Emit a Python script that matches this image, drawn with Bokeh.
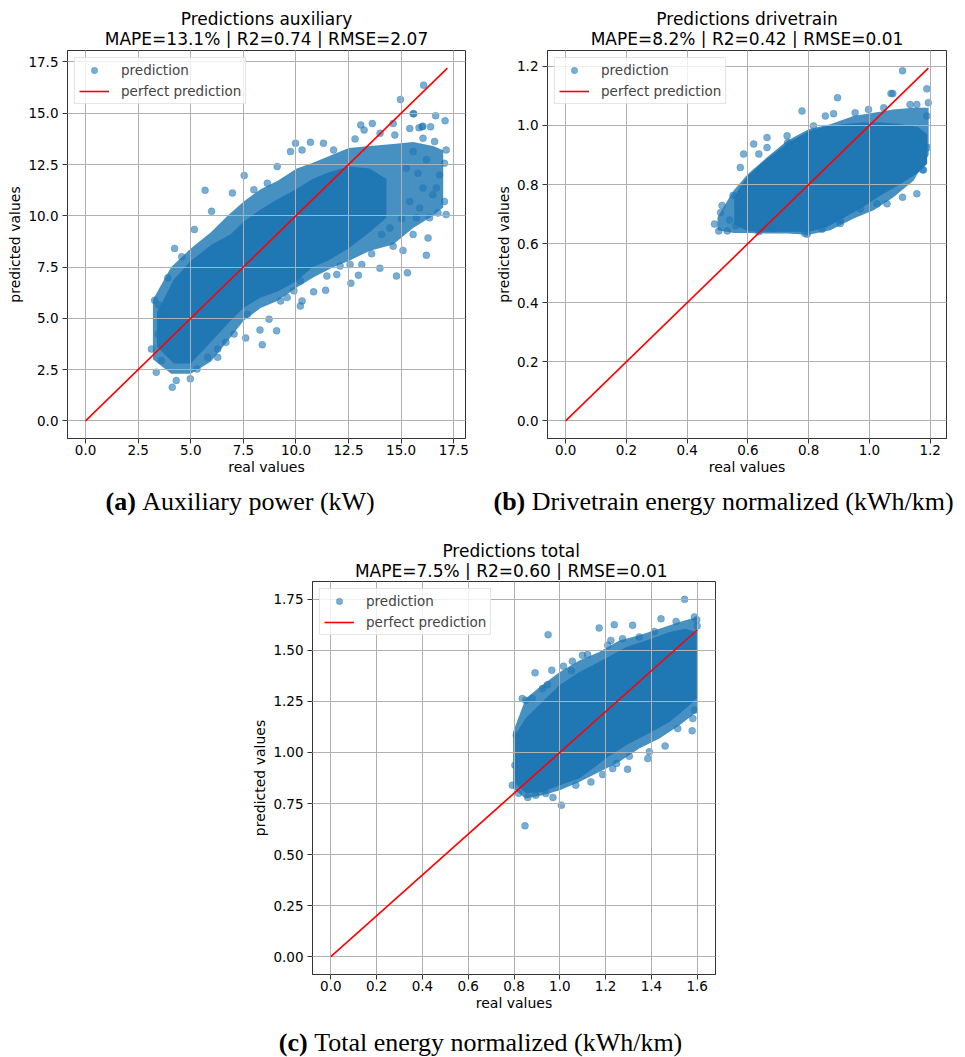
from bokeh.plotting import figure
from bokeh.layouts import column, row
from bokeh.models import (Range1d, FixedTicker, PrintfTickFormatter, Legend,
                          LegendItem, Spacer)
from bokeh.core.properties import value
from bokeh.embed import file_html
from bokeh.resources import INLINE

# ------------------------------------------------------------------ data
# (a) Auxiliary power  -- individually visible predictions
a_real = [16.64, 17.09, 15.57, 16.0, 15.41, 16.4, 13.63, 13.08, 12.81, 13.24, 14.0, 14.7,
          11.79, 11.31, 10.69, 9.98, 9.74, 10.29, 9.11, 7.54, 5.68, 6.98, 8.0, 8.64,
          5.99, 5.17, 4.23, 4.57, 3.91, 3.28, 3.47, 3.13, 3.36, 4.12, 4.31, 4.98, 5.3,
          6.28, 6.67, 7.61, 8.4, 8.29, 9.08, 8.72, 10.21, 10.29, 10.84, 11.41, 11.94,
          12.61, 12.97, 13.99, 14.78, 15.3, 13.6, 16.2, 15.09, 14.62, 15.57, 16.28,
          17.14, 16.75, 16.35, 15.72, 15.02, 17.06, 16.67, 16.83, 17.06, 17.14, 16.59,
          16.04, 15.57, 16.2, 15.8, 15.25, 16.51, 16.04, 15.41, 15.88, 14.46, 14.07,
          13.13, 12.57, 12.1, 11.47, 10.21, 9.58, 9.27, 9.9, 7.69, 7.06, 6.28, 5.8, 3.6,
          3.44, 3.6, 16.07, 14.97, 15.6, 14.62, 15.85, 16.03]
a_pred = [14.88, 14.64, 14.98, 14.34, 14.26, 14.34, 14.5, 14.43, 13.75, 14.18, 14.02, 13.94,
          13.21, 13.54, 13.58, 13.54, 13.13, 13.21, 12.4, 11.97, 11.24, 11.11, 11.27, 11.59,
          10.22, 9.33, 8.41, 8.0, 6.98, 5.88, 5.66, 3.5, 2.37, 1.64, 1.97, 2.05, 2.53,
          3.1, 3.83, 4.04, 3.71, 4.43, 4.39, 4.96, 5.6, 5.85, 6.29, 6.37, 7.14,
          6.71, 7.1, 7.44, 7.06, 7.22, 8.15, 8.07, 8.31, 8.52, 9.09, 8.92,
          10.06, 10.14, 9.9, 9.9, 9.86, 10.7, 11.35, 11.99, 12.56, 13.21, 13.62,
          13.78, 13.13, 12.73, 12.08, 12.32, 11.03, 11.35, 10.7, 10.38, 9.41, 9.09,
          7.63, 7.63, 7.55, 7.06, 6.82, 6.01, 5.85, 6.34, 5.2, 4.23, 3.5, 3.1, 2.94,
          4.23, 5.04, 16.37, 15.67, 14.97, 14.5, 14.29, 14.37]
# outer envelope of the crowded part of the cloud (real value, lower, upper prediction)
a_env_x = [3.2, 4.07, 5.0, 5.96, 6.75, 7.52, 8.32, 9.11, 10.04, 10.84, 11.79, 12.51, 13.52,
           14.62, 15.57, 16.51, 17.0]
a_env_lo = [3.0, 2.3, 2.3, 2.9, 3.9, 4.9, 5.5, 5.85, 6.5, 7.0, 7.5, 7.8, 8.3, 8.6, 9.4,
            10.0, 10.4]
a_env_hi = [5.9, 7.5, 8.4, 9.2, 10.0, 10.7, 11.3, 11.7, 12.3, 12.6, 13.0, 13.3, 13.4, 13.5,
            13.6, 13.4, 13.2]
# fully overlapping (solid) part of the cloud
a_core_x = [3.4, 4.2, 5.0, 6.0, 6.9, 7.5, 8.3, 9.1, 10.0, 10.8, 11.5, 12.5, 13.5, 14.3]
a_core_lo = [3.6, 2.8, 2.8, 3.9, 4.9, 5.5, 6.0, 6.3, 6.8, 7.5, 7.8, 8.4, 9.2, 9.9]
a_core_hi = [5.3, 6.9, 7.8, 8.6, 9.1, 9.7, 10.3, 10.8, 11.3, 11.8, 12.1, 12.4, 12.3, 11.8]
a_perfect = [0.0, 17.2]

# (b) Drivetrain energy normalized
b_real = [1.109, 1.077, 1.071, 1.189, 1.194, 1.189, 1.191, 1.178, 1.156, 1.109, 1.058, 1.025,
          0.97, 0.904, 0.882, 0.795, 0.685, 0.636, 0.532, 0.504, 0.49, 0.51, 0.515, 0.551,
          0.575, 0.586, 0.636, 0.663, 0.663, 0.729, 0.731, 0.778, 0.855, 0.882, 0.895,
          0.953, 0.997, 1.047, 1.134, 1.156, 0.816, 0.619, 1.175, 0.904, 0.844, 0.787,
          0.60, 0.58, 0.54, 0.56]
b_pred = [1.185, 1.108, 1.108, 1.124, 1.077, 1.032, 0.925, 0.849, 0.769, 0.757, 0.735, 0.735,
          0.718, 0.679, 0.69, 0.632, 0.651, 0.64, 0.643, 0.643, 0.666, 0.705, 0.729, 0.763,
          0.858, 0.903, 0.903, 0.959, 0.925, 0.965, 0.942, 1.049, 1.032, 1.04, 1.094,
          1.043, 1.054, 1.06, 1.071, 1.071, 0.998, 0.937, 0.85, 0.668, 0.649, 0.635,
          0.79, 0.70, 0.68, 0.66]
b_env_x = [0.50, 0.553, 0.60, 0.663, 0.729, 0.80, 0.871, 0.948, 1.014, 1.079, 1.145, 1.195]
b_env_lo = [0.645, 0.636, 0.636, 0.634, 0.634, 0.63, 0.645, 0.685, 0.713, 0.757, 0.813, 0.90]
b_env_hi = [0.69, 0.78, 0.836, 0.892, 0.948, 0.987, 1.004, 1.032, 1.043, 1.054, 1.06, 1.06]
b_core_x = [0.555, 0.60, 0.66, 0.73, 0.80, 0.86, 0.92, 0.98, 1.04, 1.10, 1.16, 1.19]
b_core_lo = [0.665, 0.642, 0.64, 0.64, 0.64, 0.655, 0.69, 0.725, 0.765, 0.80, 0.84, 0.87]
b_core_hi = [0.76, 0.83, 0.885, 0.94, 0.98, 0.998, 1.005, 1.01, 1.01, 1.005, 0.995, 0.97]
b_perfect = [0.0, 1.194]

# (c) Total energy normalized
c_real = [1.545, 0.949, 1.172, 1.238, 1.318, 1.442, 1.588, 1.099, 1.121, 1.055, 1.016, 0.892,
          0.965, 0.946, 0.924, 0.836, 0.851, 0.88, 0.81, 0.804, 0.793, 0.848, 1.007, 0.939,
          0.895, 1.07, 1.136, 1.187, 1.231, 1.296, 1.248, 1.304, 1.384, 1.391, 1.46, 1.515,
          1.578, 1.581, 1.588, 1.223, 1.209, 1.274, 1.347, 1.413, 1.508, 1.051, 1.598, 1.60,
          0.82, 0.86, 0.97]
c_pred = [1.75, 1.577, 1.61, 1.626, 1.623, 1.655, 1.664, 1.476, 1.48, 1.447, 1.422, 1.39,
          1.403, 1.332, 1.313, 1.264, 1.256, 1.264, 1.084, 0.938, 0.84, 0.641, 0.742, 0.799,
          0.791, 0.84, 0.856, 0.892, 0.921, 0.918, 0.946, 0.982, 0.97, 1.003, 1.032, 1.117,
          1.106, 1.166, 1.207, 1.549, 1.525, 1.557, 1.566, 1.593, 1.642, 1.4, 1.65, 1.62,
          0.80, 0.78, 0.78]
c_env_x = [0.796, 0.851, 0.924, 1.0, 1.085, 1.172, 1.26, 1.347, 1.435, 1.523, 1.599]
c_env_lo = [0.823, 0.774, 0.79, 0.815, 0.856, 0.905, 0.954, 1.019, 1.068, 1.133, 1.199]
c_env_hi = [1.10, 1.264, 1.33, 1.394, 1.45, 1.492, 1.549, 1.574, 1.606, 1.639, 1.664]
c_core_x = [0.805, 0.85, 0.924, 1.0, 1.085, 1.143, 1.2, 1.29, 1.4, 1.48, 1.55, 1.598]
c_core_lo = [0.85, 0.80, 0.807, 0.84, 0.872, 0.92, 0.97, 1.035, 1.1, 1.15, 1.215, 1.264]
c_core_hi = [1.084, 1.166, 1.248, 1.33, 1.394, 1.427, 1.46, 1.517, 1.557, 1.59, 1.606, 1.59]
c_perfect = [0.0, 1.6]

# tick values
a_ticks = [0.0, 2.5, 5.0, 7.5, 10.0, 12.5, 15.0, 17.5]
b_ticks = [0.0, 0.2, 0.4, 0.6, 0.8, 1.0, 1.2]
c_xticks = [0.0, 0.2, 0.4, 0.6, 0.8, 1.0, 1.2, 1.4, 1.6]
c_yticks = [0.0, 0.25, 0.5, 0.75, 1.0, 1.25, 1.5, 1.75]

# texts
a_title = ["Predictions auxiliary", "MAPE=13.1% | R2=0.74 | RMSE=2.07"]
b_title = ["Predictions drivetrain", "MAPE=8.2% | R2=0.42 | RMSE=0.01"]
c_title = ["Predictions total", "MAPE=7.5% | R2=0.60 | RMSE=0.01"]
a_caption = ["(a)", "Auxiliary power (kW)"]
b_caption = ["(b)", "Drivetrain energy normalized (kWh/km)"]
c_caption = ["(c)", "Total energy normalized (kWh/km)"]
legend_labels = ["prediction", "perfect prediction"]
x_label = "real values"
y_label = "predicted values"

# ------------------------------------------------------------------ style
BLUE = "#1f77b4"
FONT = "DejaVu Sans"
SERIF = "Liberation Serif"
SPINE = "#333333"


def padded(vals):
    lo, hi = min(vals), max(vals)
    m = 0.05 * (hi - lo)
    return Range1d(lo - m, hi + m)


def make_panel(real, pred, ex, elo, ehi, cx, clo, chi, perfect, xticks, yticks,
               xfmt, yfmt, fw, fh, borders):
    p = figure(frame_width=fw, frame_height=fh,
               x_range=padded(real + perfect), y_range=padded(pred + perfect),
               output_backend="svg", toolbar_location=None,
               min_border_left=borders[0], min_border_right=borders[1],
               min_border_top=borders[2], min_border_bottom=borders[3])
    p.background_fill_color = "white"
    p.border_fill_color = "white"
    p.varea(x=ex, y1=elo, y2=ehi, fill_color=BLUE, fill_alpha=0.82)
    p.varea(x=cx, y1=clo, y2=chi, fill_color=BLUE, fill_alpha=1.0)
    sc = p.scatter(real, pred, size=7, fill_color=BLUE, fill_alpha=0.6,
                   line_color=BLUE, line_alpha=0.6, line_width=0.5)
    ln = p.line(perfect, perfect, line_color="#ff0000", line_width=1.6)
    ln.level = "annotation"

    p.outline_line_color = SPINE
    p.outline_line_alpha = 1.0
    p.outline_line_width = 1

    p.grid.grid_line_color = "#b0b0b0"
    p.grid.grid_line_width = 1
    p.grid.level = "guide"

    p.xaxis.ticker = FixedTicker(ticks=xticks)
    p.yaxis.ticker = FixedTicker(ticks=yticks)
    p.xaxis.formatter = PrintfTickFormatter(format=xfmt)
    p.yaxis.formatter = PrintfTickFormatter(format=yfmt)
    p.xaxis.axis_label = x_label
    p.yaxis.axis_label = y_label
    for ax in p.axis:
        ax.axis_line_color = SPINE
        ax.major_tick_line_color = SPINE
        ax.major_tick_out = 5
        ax.major_tick_in = 0
        ax.minor_tick_out = 0
        ax.minor_tick_in = 0
        ax.major_label_text_font = FONT
        ax.major_label_text_font_size = "13.5px"
        ax.major_label_text_color = "black"
        ax.axis_label_text_font = FONT
        ax.axis_label_text_font_size = "14px"
        ax.axis_label_text_font_style = "normal"
        ax.axis_label_text_color = "black"
    p.xaxis.major_label_standoff = 1
    p.xaxis.axis_label_standoff = 1
    p.yaxis.major_label_standoff = 4
    p.yaxis.axis_label_standoff = 2

    legend = Legend(items=[LegendItem(label=legend_labels[0], renderers=[sc]),
                           LegendItem(label=legend_labels[1], renderers=[ln])],
                    location="top_left", margin=7, padding=4, spacing=5,
                    glyph_width=30, glyph_height=16, label_height=16,
                    label_standoff=12,
                    label_text_font=FONT, label_text_font_size="13.5px",
                    background_fill_alpha=0.8, border_line_color="#cccccc",
                    border_line_width=1)
    p.add_layout(legend)
    return p


def strip(width, height, items):
    f = figure(width=width, height=height, x_range=Range1d(0, width),
               y_range=Range1d(height, 0), x_axis_type=None, y_axis_type=None,
               output_backend="svg", toolbar_location=None, min_border=0)
    f.outline_line_color = None
    f.background_fill_color = "white"
    f.border_fill_color = "white"
    for (x, y, txt, font, size, style, align) in items:
        f.text(x=[x], y=[y], text=[txt], text_font=value(font),
               text_font_size=value(size), text_font_style=style,
               text_align=align, text_baseline="middle", text_color="black")
    return f


# ------------------------------------------------------------------ panels
fig_a = make_panel(a_real, a_pred, a_env_x, a_env_lo, a_env_hi,
                   a_core_x, a_core_lo, a_core_hi, a_perfect,
                   a_ticks, a_ticks, "%.1f", "%.1f", 398, 388, (67, 15, 2, 42))
fig_b = make_panel(b_real, b_pred, b_env_x, b_env_lo, b_env_hi,
                   b_core_x, b_core_lo, b_core_hi, b_perfect,
                   b_ticks, b_ticks, "%.1f", "%.1f", 399, 388, (67, 19, 2, 42))
fig_c = make_panel(c_real, c_pred, c_env_x, c_env_lo, c_env_hi,
                   c_core_x, c_core_lo, c_core_hi, c_perfect,
                   c_xticks, c_yticks, "%.1f", "%.2f", 403, 393, (60, 10, 1, 40))

W = 965
header1 = strip(W, 48, [
    (266, 18.7, a_title[0], FONT, "17px", "normal", "center"),
    (266, 38.4, a_title[1], FONT, "17px", "normal", "center"),
    (746.5, 18.7, b_title[0], FONT, "17px", "normal", "center"),
    (746.5, 38.4, b_title[1], FONT, "17px", "normal", "center"),
])
caption1 = strip(W, 48, [
    (105, 20.5, a_caption[0], SERIF, "26px", "bold", "left"),
    (141.8, 20.5, a_caption[1], SERIF, "26px", "normal", "left"),
    (493, 20.5, b_caption[0], SERIF, "26px", "bold", "left"),
    (531.3, 20.5, b_caption[1], SERIF, "26px", "normal", "left"),
])
header2 = strip(W, 52, [
    (510.7, 22, c_title[0], FONT, "17px", "normal", "center"),
    (510.7, 42.4, c_title[1], FONT, "17px", "normal", "center"),
])
caption2 = strip(W, 43, [
    (278.3, 28, c_caption[0], SERIF, "26px", "bold", "left"),
    (313.7, 28, c_caption[1], SERIF, "26px", "normal", "left"),
])

page = column(header1, row(fig_a, fig_b), caption1, header2,
              row(Spacer(width=249, height=10), fig_c), caption2)

open("out.html", "w").write(file_html(page, INLINE))
